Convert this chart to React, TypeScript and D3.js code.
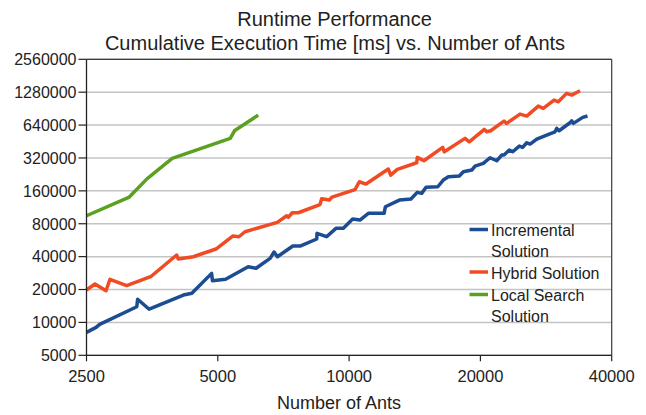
import React from "react";
import * as d3 from "d3";

const xTicks = [2500, 5000, 10000, 20000, 40000];
const yTicks = [5000, 10000, 20000, 40000, 80000, 160000, 320000, 640000, 1280000, 2560000];

const incrementalAnts = [2500, 2630, 2680, 3260, 3275, 3480, 4170, 4360, 4840, 4860, 5210, 5870, 6120, 6590, 6730, 6850, 7430, 7720, 8430, 8440, 8880, 9330, 9700, 10190, 10590, 11070, 12030, 12110, 13040, 13860, 14330, 14670, 15010, 15970, 16440, 16890, 17890, 18280, 19110, 19440, 20310, 21040, 21800, 22380, 22650, 23300, 23720, 24560, 25000, 25540, 26000, 26930, 28380, 29650, 29930, 30300, 32100, 32380, 32680, 34330, 35200];
const incrementalTime = [8100, 9000, 9600, 13900, 16300, 13200, 17800, 18500, 28100, 24100, 24800, 32300, 31300, 38600, 44100, 39900, 50000, 50000, 58000, 65400, 60900, 72600, 72600, 88400, 86500, 99600, 99600, 114500, 131800, 134700, 155000, 151800, 172300, 174500, 200900, 215400, 218600, 239400, 248000, 269800, 285600, 321400, 301700, 340200, 340200, 377900, 364800, 411300, 400000, 440800, 428800, 476400, 518500, 555500, 597000, 567500, 672000, 701000, 663500, 752500, 774000];

const hybridAnts = [2500, 2615, 2771, 2830, 3090, 3508, 4025, 4059, 4393, 4952, 5410, 5591, 5772, 6845, 7195, 7255, 7407, 7647, 8575, 8652, 9006, 9138, 10318, 10553, 10934, 12302, 12457, 12898, 14290, 14333, 14845, 16390, 16530, 18440, 18860, 20420, 20677, 21115, 22653, 22975, 24650, 25538, 27150, 27875, 29500, 30175, 31525, 32375, 33850];
const hybridTime = [19790, 22460, 19495, 24790, 21670, 26190, 41380, 38030, 39915, 46950, 61750, 60850, 67600, 82400, 94700, 91550, 100850, 100850, 119900, 135500, 131750, 140450, 164500, 193850, 184650, 253350, 223150, 251650, 289200, 324050, 301700, 400000, 364550, 483700, 450000, 584500, 555500, 567500, 696500, 663500, 806500, 774000, 955500, 910000, 1084000, 1045500, 1248000, 1204500, 1319000];

const localAnts = [2500, 3134, 3440, 3930, 5340, 5460, 6190];
const localTime = [94700, 140450, 206050, 317350, 483700, 567500, 790000];

const seriesNames = ["Incremental Solution", "Hybrid Solution", "Local Search Solution"];
const seriesColors = ["#1c4c92", "#f04b22", "#5aa11f"];

export default function App() {
  const x = d3.scaleLog().base(2).domain([2500, 40000]).range([86.5, 611.7]);
  const y = d3.scaleLog().base(2).domain([5000, 2560000]).range([355.3, 59.3]);
  const line = d3
    .line<[number, number]>()
    .x((d) => x(d[0]))
    .y((d) => y(d[1]));

  const series = [
    d3.zip(incrementalAnts, incrementalTime) as [number, number][],
    d3.zip(hybridAnts, hybridTime) as [number, number][],
    d3.zip(localAnts, localTime) as [number, number][],
  ];

  const [x0, x1] = x.range();
  const [y0, y1] = y.range();
  const font = "'Liberation Sans', Arial, sans-serif";

  const legendRows = [
    { lines: ["Incremental", "Solution"], y: 230.5 },
    { lines: ["Hybrid Solution"], y: 273 },
    { lines: ["Local Search", "Solution"], y: 295.5 },
  ];

  return (
    <svg
      width={646}
      height={415}
      style={{ position: "absolute", left: 0, top: 0, background: "#fff" }}
      fontFamily={font}
    >
      <rect x={0} y={0} width={646} height={415} fill="#fff" />
      {yTicks.map((t) => (
        <line key={"g" + t} x1={x0} x2={x1} y1={y(t)} y2={y(t)} stroke="#c4c4c4" strokeWidth={1.5} />
      ))}
      <line x1={x0} x2={x1} y1={y1} y2={y1} stroke="#3a3a3a" strokeWidth={1.2} />
      <line x1={x1} x2={x1} y1={y1} y2={y0} stroke="#3a3a3a" strokeWidth={1.2} />
      {series.map((s, i) => (
        <path
          key={i}
          d={line(s) || ""}
          fill="none"
          stroke={seriesColors[i]}
          strokeWidth={3.5}
          strokeLinejoin="round"
        />
      ))}
      <line x1={x0} x2={x0} y1={y1} y2={y0} stroke="#222" strokeWidth={1.3} />
      <line x1={x0} x2={x1} y1={y0} y2={y0} stroke="#222" strokeWidth={1.3} />
      {yTicks.map((t) => (
        <g key={"y" + t}>
          <line x1={x0 - 8} x2={x0} y1={y(t)} y2={y(t)} stroke="#222" strokeWidth={1.2} />
          <text x={x0 - 10} y={y(t)} dy="0.36em" textAnchor="end" fontSize={16} fill="#222">
            {t}
          </text>
        </g>
      ))}
      {xTicks.map((t) => (
        <g key={"x" + t}>
          <line x1={x(t)} x2={x(t)} y1={y0} y2={y0 + 6} stroke="#222" strokeWidth={1.2} />
          <text x={x(t)} y={382} textAnchor="middle" fontSize={16.5} fill="#222">
            {t}
          </text>
        </g>
      ))}
      <text x={334.5} y={26} textAnchor="middle" fontSize={20} fill="#222">
        Runtime Performance
      </text>
      <text x={335} y={50} textAnchor="middle" fontSize={20} fill="#222">
        Cumulative Execution Time [ms] vs. Number of Ants
      </text>
      <text x={339} y={409} textAnchor="middle" fontSize={18} fill="#222">
        Number of Ants
      </text>
      {legendRows.map((r, i) => (
        <g key={"l" + i}>
          <line x1={469.5} x2={488} y1={r.y - 1} y2={r.y - 1} stroke={seriesColors[i]} strokeWidth={3.5} />
          {r.lines.map((ln, j) => (
            <text key={j} x={491} y={r.y + j * 21} dy="0.36em" fontSize={16} fill="#222">
              {ln}
            </text>
          ))}
        </g>
      ))}
    </svg>
  );
}
